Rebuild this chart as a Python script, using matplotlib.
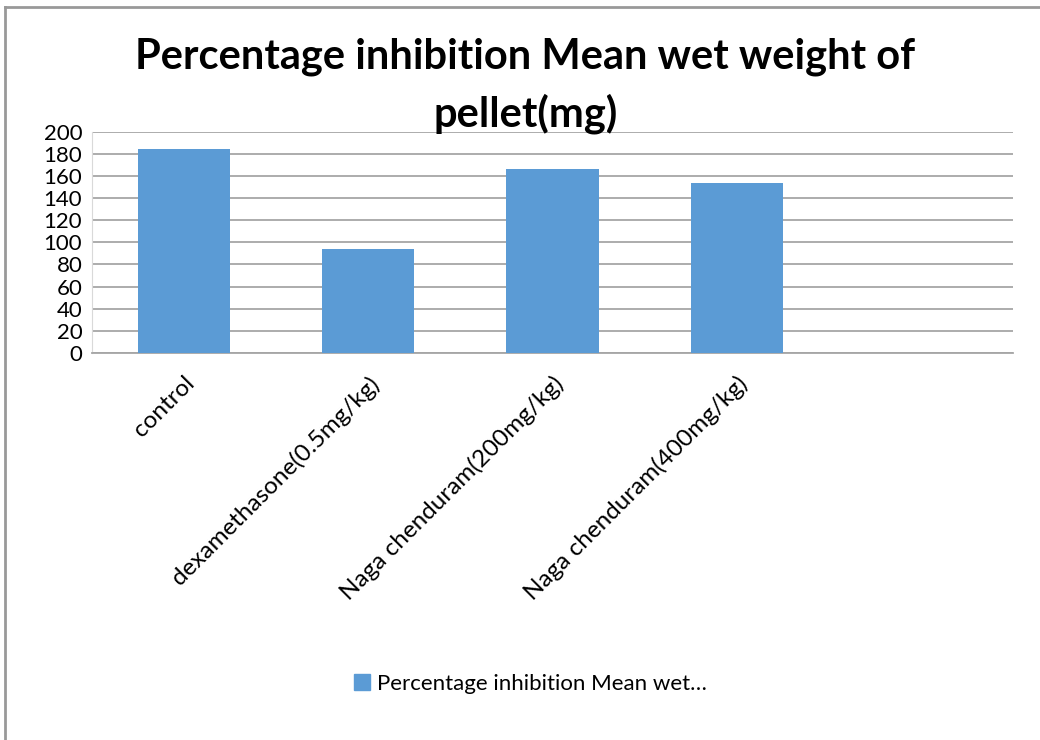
import matplotlib
matplotlib.use('Agg')
import matplotlib.pyplot as plt
import matplotlib.patches as mpatches
from matplotlib.lines import Line2D

plt.rcParams['font.family'] = ['Lato', 'DejaVu Sans']

# Mean wet weight of pellet (mg) per group
groups = ['control', 'dexamethasone(0.5mg/kg)', 'Naga chenduram(200mg/kg)',
          'Naga chenduram(400mg/kg)', '']
weights = [184, 94, 166, 154]
yticks = [0, 20, 40, 60, 80, 100, 120, 140, 160, 180, 200]

bar_color = '#5b9bd5'
grid_color = '#a6a6a6'

fig = plt.figure(figsize=(10.4, 7.4), dpi=100)
ax = fig.add_axes([0.0885, 0.523, 0.8855, 0.299])

ax.bar(range(len(weights)), weights, width=0.5, color=bar_color, zorder=3)

ax.set_xlim(-0.5, len(groups) - 0.5)
ax.set_ylim(0, 200)
ax.set_yticks(yticks)
ax.set_yticklabels([str(t) for t in yticks], fontsize=16)
ax.set_xticks(range(len(groups)))
ax.set_xticklabels(groups, rotation=45, ha='right', rotation_mode='anchor', fontsize=17.5)
ax.tick_params(axis='x', length=0, pad=14)
ax.tick_params(axis='y', length=0, pad=7)
ax.yaxis.grid(True, color=grid_color, linewidth=1.3, zorder=0)
for side in ['top', 'right']:
    ax.spines[side].set_visible(False)
ax.spines['left'].set_color('#d9d9d9')
ax.spines['bottom'].set_color(grid_color)
ax.spines['bottom'].set_linewidth(1.3)

fig.text(0.505, 0.923, 'Percentage inhibition Mean wet weight of', ha='center', va='center',
         fontsize=30, fontweight='bold')
fig.text(0.505, 0.847, 'pellet(mg)', ha='center', va='center',
         fontsize=30, fontweight='bold')

# legend with the truncated series name
handle = mpatches.Patch(color=bar_color, label='Percentage inhibition Mean wet…')
fig.legend(handles=[handle], loc='center', bbox_to_anchor=(0.51, 0.076), frameon=False,
           fontsize=16, handlelength=0.75, handleheight=0.75, handletextpad=0.3)

# outer chart border
fig.add_artist(Line2D([0.005, 0.005], [0, 0.991], color='#999999', linewidth=2))
fig.add_artist(Line2D([0.005, 1.0], [0.991, 0.991], color='#999999', linewidth=2))

fig.savefig('out.png', dpi=100)
